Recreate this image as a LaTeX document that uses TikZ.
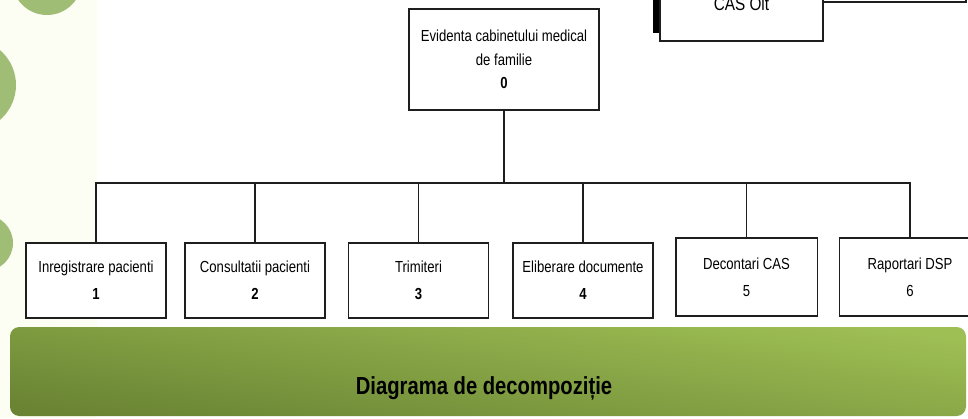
\documentclass[tikz,border=0pt]{standalone}
\usepackage{fontspec}
\setmainfont{Liberation Sans}[FakeStretch=0.82]
\usetikzlibrary{shadows}
\definecolor{leafgreen}{RGB}{160,189,118}
\definecolor{creamband}{RGB}{253,254,243}
\definecolor{bannerlight}{RGB}{158,191,84}
\definecolor{bannerdark}{RGB}{106,132,52}
\definecolor{boxline}{RGB}{30,30,30}
\begin{document}
\begin{tikzpicture}[x=0.75pt, y=-0.75pt,
    box/.style={draw=boxline, line width=1pt, fill=white, inner sep=0pt, align=center},
    mainbox/.style={box, minimum width=142.5pt, minimum height=75.75pt, font=\fontsize{12}{17.5}\selectfont},
    taskbox/.style={box, minimum width=105pt, minimum height=56.25pt, font=\fontsize{12}{20}\selectfont},
    wire/.style={draw=boxline, line width=0.9pt}]
    \useasboundingbox (0,0) rectangle (968,418);

    % background band and dots
    \fill[creamband] (0,0) rectangle (97,418);
    \fill[leafgreen] (47,-20) circle [radius=35];
    \fill[leafgreen] (-30,85) circle [radius=46];
    \fill[leafgreen] (-15,243) circle [radius=28];

    % external boxes at the top
    \node[box, minimum width=124.5pt, minimum height=46.5pt] (rep) at (883,-29) {};
    \node[box, minimum width=122.25pt, minimum height=55.5pt, font=\fontsize{14}{16}\selectfont,
          drop shadow={shadow xshift=-5.25pt, shadow yshift=6pt, fill=black, opacity=1}] (cas) at (741.5,4) {CAS Olt};

    % root
    \node[mainbox] (root) at (504,59.5) {Evidenta cabinetului medical\\de familie\\\textbf{0}};
    \coordinate (bus) at (504,183);

    % sub-functions
    \foreach \n/\x/\t in {1/96/{Inregistrare pacienti\\\textbf{1}}, 2/255/{Consultatii pacienti\\\textbf{2}},
                          3/418.5/{Trimiteri\\\textbf{3}}, 4/583/{Eliberare documente\\\textbf{4}}} {
      \node[taskbox] (f\n) at (\x,280.5) {\t};
    }
    \foreach \n/\x/\t in {5/746.5/{Decontari CAS\\5}, 6/910/{Raportari DSP\\6}} {
      \node[taskbox, minimum width=106pt, minimum height=58.5pt] (f\n) at (\x,277) {\t};
    }

    \draw[wire] (root.south) -- (bus);
    \foreach \n in {1,...,6} {
      \draw[wire] (f\n.north) |- (bus);
    }

    % title banner
    \node[rounded corners=7pt, inner sep=0pt, minimum width=717pt, minimum height=66.75pt,
          top color=bannerlight, bottom color=bannerdark, shading angle=-8] (banner) at (488,371.5) {};
    \node[font=\fontsize{18.5}{20}\selectfont\bfseries] (title) at (484,388) {Diagrama de decompoziție};
\end{tikzpicture}
\end{document}
